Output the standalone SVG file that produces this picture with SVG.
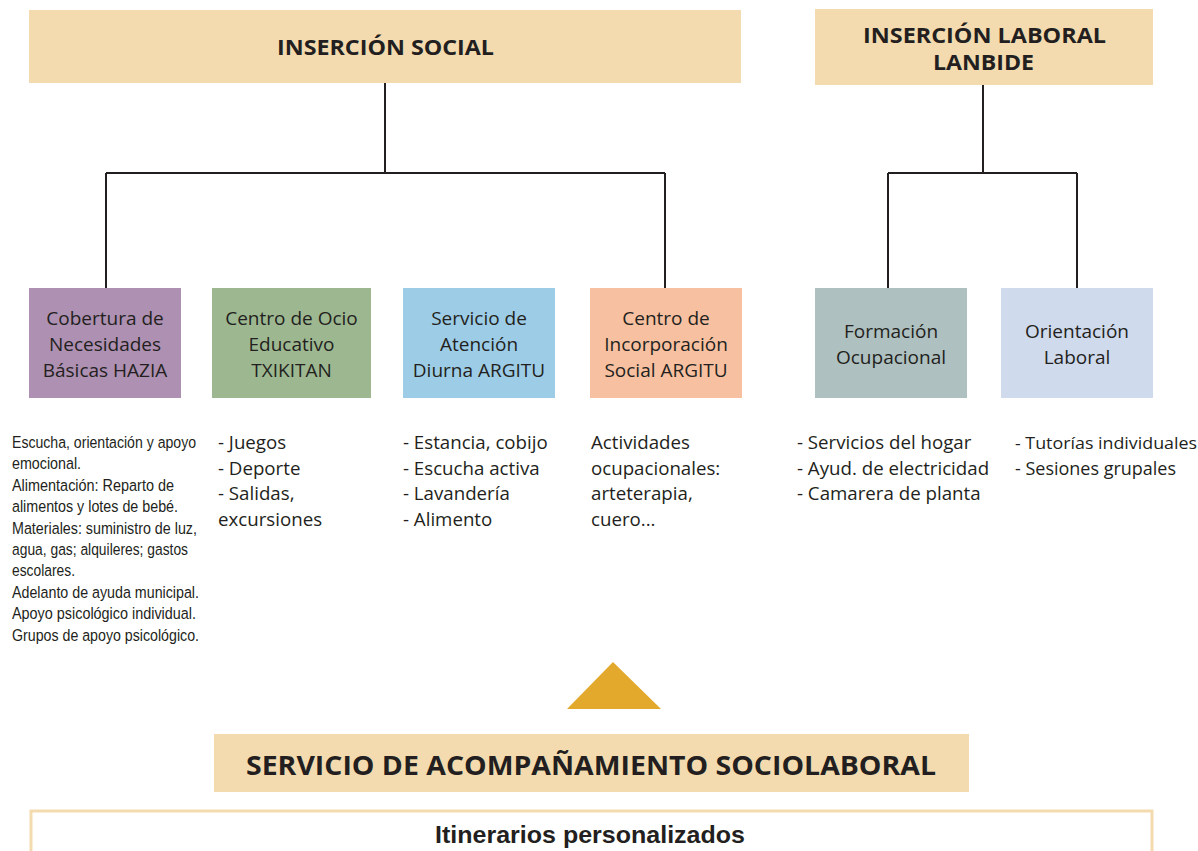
<svg xmlns="http://www.w3.org/2000/svg" width="1198" height="851" viewBox="0 0 1198 851">
<style>
.hdr{fill:#f4dbaf}
.t{font-family:"Open Sans","Noto Sans",sans-serif;fill:#231f20}
.h{font-weight:bold;font-size:21px}
.bx{font-size:19px;text-anchor:middle}
.li{font-size:18.7px}
.cd{font-size:17px;font-family:"Liberation Sans",sans-serif;fill:#231f20}
.con{stroke:#231f20;stroke-width:2;fill:none}
</style>
<rect width="1198" height="851" fill="#ffffff"/>
<g id="connectors">
<path class="con" d="M385 83V173M106 173H665M106 173V288M665 173V288"/>
<path class="con" d="M983 85V173M888 173H1077M888 173V288M1077 173V288"/>
</g>
<g id="insercion-social">
<rect class="hdr" x="29" y="10" width="712" height="73"/>
<text class="t h" x="277" y="55" textLength="217" lengthAdjust="spacingAndGlyphs">INSERCIÓN SOCIAL</text>
</g>
<g id="insercion-laboral">
<rect class="hdr" x="815" y="9" width="338" height="76"/>
<text class="t h" x="863" y="43" textLength="243" lengthAdjust="spacingAndGlyphs">INSERCIÓN LABORAL</text>
<text class="t h" x="933" y="70" textLength="101" lengthAdjust="spacingAndGlyphs">LANBIDE</text>
</g>
<g id="hazia">
<rect x="29" y="288" width="152" height="110" fill="#ae90b2"/>
<text class="t bx" x="105" y="325">Cobertura de</text>
<text class="t bx" x="105" y="351">Necesidades</text>
<text class="t bx" x="105" y="377">Básicas HAZIA</text>
</g>
<g id="txikitan">
<rect x="212" y="288" width="159" height="110" fill="#9db891"/>
<text class="t bx" x="291.5" y="325">Centro de Ocio</text>
<text class="t bx" x="291.5" y="351">Educativo</text>
<text class="t bx" x="291.5" y="377">TXIKITAN</text>
</g>
<g id="argitu-diurna">
<rect x="403" y="288" width="152" height="110" fill="#9dcde6"/>
<text class="t bx" x="479" y="325">Servicio de</text>
<text class="t bx" x="479" y="351">Atención</text>
<text class="t bx" x="479" y="377">Diurna ARGITU</text>
</g>
<g id="argitu-social">
<rect x="590" y="288" width="152" height="110" fill="#f7c1a1"/>
<text class="t bx" x="666" y="325">Centro de</text>
<text class="t bx" x="666" y="351">Incorporación</text>
<text class="t bx" x="666" y="377">Social ARGITU</text>
</g>
<g id="formacion">
<rect x="815" y="288" width="152" height="110" fill="#aec0bf"/>
<text class="t bx" x="891" y="338">Formación</text>
<text class="t bx" x="891" y="364">Ocupacional</text>
</g>
<g id="orientacion">
<rect x="1001" y="288" width="152" height="110" fill="#cfdaec"/>
<text class="t bx" x="1077" y="338">Orientación</text>
<text class="t bx" x="1077" y="364">Laboral</text>
</g>
<g id="hazia-list" transform="translate(12,0) scale(0.85,1)">
<text class="cd" x="0" y="448" textLength="216.5" lengthAdjust="spacingAndGlyphs">Escucha, orientación y apoyo</text>
<text class="cd" x="0" y="469.4" textLength="81.2" lengthAdjust="spacingAndGlyphs">emocional.</text>
<text class="cd" x="0" y="490.8" textLength="190.6" lengthAdjust="spacingAndGlyphs">Alimentación: Reparto de</text>
<text class="cd" x="0" y="512.2" textLength="195.3" lengthAdjust="spacingAndGlyphs">alimentos y lotes de bebé.</text>
<text class="cd" x="0" y="533.6" textLength="217.6" lengthAdjust="spacingAndGlyphs">Materiales: suministro de luz,</text>
<text class="cd" x="0" y="555" textLength="207.1" lengthAdjust="spacingAndGlyphs">agua, gas; alquileres; gastos</text>
<text class="cd" x="0" y="576.4" textLength="74.1" lengthAdjust="spacingAndGlyphs">escolares.</text>
<text class="cd" x="0" y="597.8" textLength="220" lengthAdjust="spacingAndGlyphs">Adelanto de ayuda municipal.</text>
<text class="cd" x="0" y="619.2" textLength="216.5" lengthAdjust="spacingAndGlyphs">Apoyo psicológico individual.</text>
<text class="cd" x="0" y="640.6" textLength="220" lengthAdjust="spacingAndGlyphs">Grupos de apoyo psicológico.</text>
</g>
<g id="txikitan-list">
<text class="t li" x="218" y="449">- Juegos</text>
<text class="t li" x="218" y="474.7">- Deporte</text>
<text class="t li" x="218" y="500.4">- Salidas,</text>
<text class="t li" x="218" y="526.1">excursiones</text>
</g>
<g id="diurna-list">
<text class="t li" x="403" y="449">- Estancia, cobijo</text>
<text class="t li" x="403" y="474.7">- Escucha activa</text>
<text class="t li" x="403" y="500.4">- Lavandería</text>
<text class="t li" x="403" y="526.1">- Alimento</text>
</g>
<g id="social-list">
<text class="t li" x="591" y="449">Actividades</text>
<text class="t li" x="591" y="474.7">ocupacionales:</text>
<text class="t li" x="591" y="500.4">arteterapia,</text>
<text class="t li" x="591" y="526.1">cuero...</text>
</g>
<g id="formacion-list">
<text class="t li" x="797" y="449">- Servicios del hogar</text>
<text class="t li" x="797" y="474.7">- Ayud. de electricidad</text>
<text class="t li" x="797" y="500.4">- Camarera de planta</text>
</g>
<g id="orientacion-list">
<text class="t" x="1015" y="449" font-size="17" textLength="182" lengthAdjust="spacingAndGlyphs">- Tutorías individuales</text>
<text class="t" x="1015" y="474.7" font-size="17.5" textLength="161" lengthAdjust="spacingAndGlyphs">- Sesiones grupales</text>
</g>
<g id="arrow">
<polygon points="613,662 661,709 567,709" fill="#e3a92c"/>
</g>
<g id="acompanamiento">
<rect class="hdr" x="214" y="734" width="755" height="58"/>
<text class="t" x="246" y="775" font-weight="bold" font-size="26" textLength="690" lengthAdjust="spacingAndGlyphs">SERVICIO DE ACOMPAÑAMIENTO SOCIOLABORAL</text>
</g>
<g id="itinerarios">
<rect x="31" y="811" width="1121" height="60" fill="none" stroke="#f4dbaf" stroke-width="3"/>
<text x="435" y="843" style="font-family:'Liberation Sans',sans-serif;font-weight:bold;font-size:24px;fill:#231f20" textLength="310" lengthAdjust="spacingAndGlyphs">Itinerarios personalizados</text>
</g>
</svg>
